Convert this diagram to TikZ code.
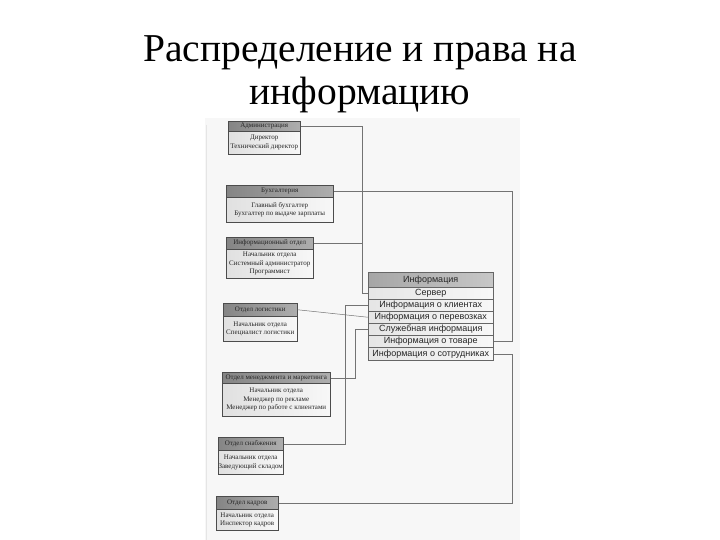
\documentclass[tikz,border=0pt]{standalone}
\usepackage{fontspec}
\setmainfont{Liberation Serif}
\newfontfamily\infofont{Liberation Sans}
\begin{document}
\begin{tikzpicture}[x=1pt,y=-1pt,
  hdr/.style={draw=black!70, line width=0.5pt, left color=black!48, right color=black!32, inner sep=0pt, anchor=north west, align=center, font=\fontsize{7}{8}\selectfont, text=black!85},
  bdy/.style={draw=black!70, line width=0.5pt, left color=black!12, right color=black!3, inner sep=0pt, anchor=north west, align=center, font=\fontsize{7}{8.6}\selectfont, text=black!85},
  ihdr/.style={draw=black!60, line width=0.5pt, left color=black!35, right color=black!22, inner sep=0pt, anchor=north west, minimum width=125pt, minimum height=15pt, font=\infofont\fontsize{9}{10}\selectfont, text=black!85},
  irow/.style={draw=black!60, line width=0.5pt, left color=black!10, right color=black!3, inner sep=0pt, anchor=north west, minimum width=125pt, minimum height=12pt, font=\infofont\fontsize{9}{10}\selectfont, text=black!85},
  conn/.style={draw=black!55, line width=0.5pt},
  title/.style={font=\fontsize{39.5}{40}\selectfont, anchor=base}]
\fill[white] (0,0) rectangle (720,540);
\useasboundingbox (0,0) rectangle (720,540);
\fill[black!3] (205,118) rectangle (520,540);
\draw[black!10, line width=1pt] (206,125) -- (206,540);

\node[title] (t1) at (360,62) {Распределение и права на};
\node[title] (t2) at (360,105) {информацию};

% departments
\node[hdr, minimum width=72pt, minimum height=10pt] (adm-h) at (228,121) {Администрация};
\node[bdy, minimum width=72pt, minimum height=23pt] (adm-b) at (228,131) {Директор\\Технический директор};

\node[hdr, minimum width=107pt, minimum height=12pt] (buh-h) at (226,185) {Бухгалтерия};
\node[bdy, minimum width=107pt, minimum height=25pt] (buh-b) at (226,197) {Главный бухгалтер\\Бухгалтер по выдаче зарплаты};

\node[hdr, minimum width=87pt, minimum height=12pt] (inf-h) at (226,237) {Информационный отдел};
\node[bdy, minimum width=87pt, minimum height=29pt] (inf-b) at (226,249) {Начальник отдела\\Системный администратор\\Программист};

\node[hdr, minimum width=74pt, minimum height=13pt] (log-h) at (223,303) {Отдел логистики};
\node[bdy, minimum width=74pt, minimum height=25pt] (log-b) at (223,316) {Начальник отдела\\Специалист логистики};

\node[hdr, minimum width=108pt, minimum height=11pt] (men-h) at (222,372) {Отдел менеджмента и маркетинга};
\node[bdy, minimum width=108pt, minimum height=33pt] (men-b) at (222,383) {Начальник отдела\\Менеджер по рекламе\\Менеджер по работе с клиентами};

\node[hdr, minimum width=65pt, minimum height=13pt] (sna-h) at (218,437) {Отдел снабжения};
\node[bdy, minimum width=65pt, minimum height=24pt] (sna-b) at (218,450) {Начальник отдела\\Заведующий складом};

\node[hdr, minimum width=62pt, minimum height=13pt] (kad-h) at (216,496) {Отдел кадров};
\node[bdy, minimum width=62pt, minimum height=21pt] (kad-b) at (216,509) {Начальник отдела\\Инспектор кадров};

% information box
\node[ihdr] (info-h) at (368,272) {Информация};
\node[irow] (info-1) at (368,287) {Сервер};
\node[irow] (info-2) at (368,299) {Информация о клиентах};
\node[irow] (info-3) at (368,311) {Информация о перевозках};
\node[irow] (info-4) at (368,323) {Служебная информация};
\node[irow] (info-5) at (368,335) {Информация о товаре};
\node[irow, minimum height=13pt] (info-6) at (368,347) {Информация о сотрудниках};

% bus coordinates
\coordinate (busL) at (362,0);
\coordinate (busS) at (345,0);
\coordinate (busM) at (355,0);
\coordinate (busR) at (512,0);

% connectors
\draw[conn] (adm-h.east) -| (info-1.west -| busL) -- (info-1.west);
\draw[conn] (inf-h.east) -- (inf-h.east -| busL);
\draw[conn] (log-h.east) -- (info-3.west);
\draw[conn] (sna-h.east) -- (sna-h.east -| busS) |- (info-2.west);
\draw[conn] (men-h.east) -- (men-h.east -| busM) |- (info-4.west);
\draw[conn] (buh-h.east) -- (buh-h.east -| busR) |- (info-5.east);
\draw[conn] (kad-h.east) -- (kad-h.east -| busR) |- (info-6.east);
\end{tikzpicture}
\end{document}
